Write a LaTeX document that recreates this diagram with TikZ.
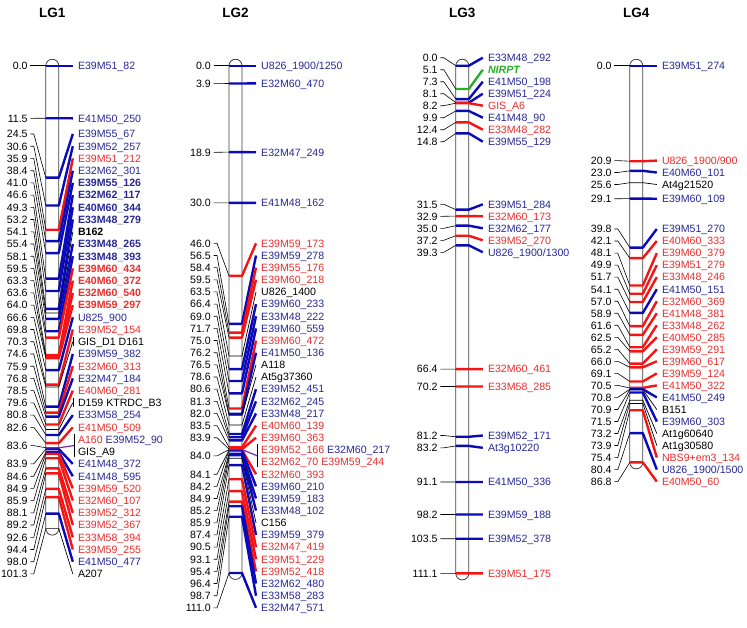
\documentclass[tikz,border=0pt]{standalone}
\usepackage{fontspec}
\setmainfont{Liberation Sans}
\usepackage{xcolor}
\definecolor{mapBlue}{RGB}{10,10,185}
\definecolor{mapRed}{RGB}{245,20,20}
\definecolor{mapGreen}{RGB}{40,175,40}
\definecolor{mapPurple}{RGB}{120,40,170}
\definecolor{txBlue}{RGB}{40,40,150}
\definecolor{txRed}{RGB}{235,45,45}

% one linkage group: name, centre x, last cM, title, markers (cM/label y/kind/text)
\newcommand{\linkagegroup}[5]{%
  \pgfmathsetmacro\xl{#2-6.5}%
  \pgfmathsetmacro\xr{#2+6.5}%
  \pgfmathsetmacro\yb{65.7+4.57*#3}%
  \node[lgtitle] (#1) at (#2,13) {#4};
  \draw[chrom] (\xl,65.7) arc[start angle=180,end angle=0,radius=6.5pt] -- (\xr,\yb)
    arc[start angle=0,end angle=-180,radius=6.5pt] -- cycle;
  \foreach \cm/\ly/\kd/\txt [count=\i] in {#5}{
    \pgfmathsetmacro\ty{65.7+4.57*\cm}
    \coordinate (#1-l\i) at (\xl,\ty);
    \coordinate (#1-r\i) at (\xr,\ty);
    \node[num] (#1-n\i) at (\xl-18,\ly) {\cm};
    \node[mname,tx \kd] (#1-m\i) at (\xr+19,\ly) {\txt};
    \draw[lnk] ([xshift=2.5pt]#1-n\i.east) -- ++(3.5,0) -- (#1-l\i);
    \draw[mk \kd] (#1-l\i) -- (#1-r\i) -- ([xshift=-5pt]#1-m\i.west);
  }
}

\begin{document}
\begin{tikzpicture}[x=1pt,y=-1pt,
  chrom/.style={draw=black!75,line width=0.8pt,fill=white},
  lnk/.style={draw=black,line width=0.6pt},
  mk b/.style={draw=mapBlue,line width=2.4pt,line join=round},
  mk r/.style={draw=mapRed,line width=2.4pt,line join=round},
  mk g/.style={draw=mapGreen,line width=2.4pt,line join=round},
  mk k/.style={draw=black,line width=0.7pt},
  mk p/.style={draw=mapPurple,line width=1.2pt},
  tx b/.style={text=txBlue},
  tx r/.style={text=txRed},
  tx g/.style={text=mapGreen},
  tx k/.style={text=black},
  num/.style={anchor=east,inner sep=0pt,text height=7.6pt,text depth=0pt,font=\fontsize{10.6}{12}\selectfont},
  mname/.style={anchor=west,inner sep=0pt,text height=7.6pt,text depth=0pt,font=\fontsize{10.6}{12}\selectfont},
  lgtitle/.style={font=\fontsize{13.5}{15}\selectfont\bfseries}]
\useasboundingbox[fill=white] (0,0) rectangle (747,627);

\linkagegroup{lg1}{52.3}{101.3}{LG1}{
0.0/65.7/b/{E39M51\_82},
11.5/118.3/b/{E41M50\_250},
24.5/134.0/b/{E39M55\_67},
30.6/146.2/b/{E39M52\_257},
35.9/158.4/r/{E39M51\_212},
38.4/170.7/b/{E32M62\_301},
41.0/182.9/b/{\bfseries E39M55\_126},
46.6/195.1/b/{\bfseries E32M62\_117},
49.3/207.3/b/{\bfseries E40M60\_344},
53.2/219.5/b/{\bfseries E33M48\_279},
54.1/231.8/k/{\bfseries B162},
55.4/244.0/b/{\bfseries E33M48\_265},
58.1/256.2/b/{\bfseries E33M48\_393},
59.5/268.4/r/{\bfseries E39M60\_434},
63.3/280.6/r/{\bfseries E40M60\_372},
63.6/292.9/r/{\bfseries E32M60\_540},
64.0/305.1/r/{\bfseries E39M59\_297},
66.6/317.3/b/{U825\_900},
69.8/329.5/r/{E39M52\_154},
70.3/341.7/k/{GIS\_D1 D161},
74.6/354.0/b/{E39M59\_382},
75.9/366.2/r/{E32M60\_313},
76.8/378.4/b/{E32M47\_184},
78.5/390.6/r/{E40M60\_281},
79.6/402.8/k/{D159 KTRDC\_B3},
80.8/415.1/b/{E33M58\_254},
82.6/427.3/r/{E41M50\_509},
83.9/463.9/b/{E41M48\_372},
84.6/476.2/b/{E41M48\_595},
84.9/488.4/r/{E39M59\_520},
85.9/500.6/r/{E32M60\_107},
88.1/512.8/r/{E39M52\_312},
89.2/525.0/r/{E39M52\_367},
92.6/537.3/r/{E33M58\_394},
94.4/549.5/r/{E39M59\_255},
98.0/561.7/b/{E41M50\_477},
101.3/573.9/k/{A207}}
\draw[lnk] ([xshift=-5pt]lg1-m20.west) ++(0,-4.5) -- ++(0,9);
\draw[lnk] ([xshift=-5pt]lg1-m25.west) ++(0,-4.5) -- ++(0,9);
% 83.6 carries three markers
\coordinate (lg1-l83) at (45.8,447.75);
\coordinate (lg1-r83) at (58.8,447.75);
\coordinate (lg1-k83) at (74,445.6);
\node[num] (lg1-n83) at (27.8,445.6) {83.6};
\node[mname] (lg1-a83) at (77.8,439.5) {\textcolor{txRed}{A160} \textcolor{txBlue}{E39M52\_90}};
\node[mname] (lg1-b83) at (77.8,451.7) {GIS\_A9};
\draw[lnk] ([xshift=2.5pt]lg1-n83.east) -- ++(3.5,0) -- (lg1-l83);
\draw[mk p] (lg1-l83) -- (lg1-r83) -- (lg1-k83);
\draw[lnk] (lg1-k83) ++(0,-11.5) -- ++(0,23);

\linkagegroup{lg2}{235.5}{111.0}{LG2}{
0.0/65.7/b/{U826\_1900/1250},
3.9/83.3/b/{E32M60\_470},
18.9/152.3/b/{E32M47\_249},
30.0/202.8/b/{E41M48\_162},
46.0/243.3/r/{E39M59\_173},
56.5/255.5/b/{E39M59\_278},
58.4/267.6/r/{E39M55\_176},
59.5/279.8/r/{E39M60\_218},
63.5/291.9/k/{U826\_1400},
66.4/304.1/b/{E39M60\_233},
69.0/316.2/b/{E33M48\_222},
71.7/328.4/b/{E39M60\_559},
75.0/340.5/r/{E39M60\_472},
76.2/352.7/b/{E41M50\_136},
76.5/364.8/k/{A118},
78.6/377.0/k/{At5g37360},
80.6/389.1/b/{E39M52\_451},
81.3/401.3/b/{E32M62\_245},
82.0/413.4/b/{E33M48\_217},
83.5/425.6/r/{E40M60\_139},
83.9/437.7/r/{E39M60\_363},
84.1/474.2/r/{E32M60\_393},
84.2/486.3/b/{E39M60\_210},
84.9/498.5/b/{E39M59\_183},
85.2/510.6/b/{E33M48\_102},
85.9/522.8/k/{C156},
87.4/534.9/b/{E39M59\_379},
90.5/547.1/r/{E32M47\_419},
93.1/559.2/r/{E39M51\_229},
95.4/571.4/r/{E39M52\_418},
96.4/583.5/b/{E32M62\_480},
98.7/595.7/b/{E33M58\_283},
111.0/607.8/b/{E32M47\_571}}
% 84.0 carries four markers
\coordinate (lg2-l84) at (229,449.6);
\coordinate (lg2-r84) at (242,449.6);
\coordinate (lg2-k84) at (257.5,455.9);
\node[num] (lg2-n84) at (211,455.9) {84.0};
\node[mname] (lg2-a84) at (261,449.9) {\textcolor{txRed}{E39M52\_166} \textcolor{txBlue}{E32M60\_217}};
\node[mname,tx r] (lg2-b84) at (261,462.0) {E32M62\_70 E39M59\_244};
\draw[lnk] ([xshift=2.5pt]lg2-n84.east) -- ++(3.5,0) -- (lg2-l84);
\draw[mk p] (lg2-l84) -- (lg2-r84) -- (lg2-k84);
\draw[lnk] (lg2-k84) ++(0,-11.5) -- ++(0,23);

\linkagegroup{lg3}{462.3}{111.1}{LG3}{
0.0/57.7/b/{E33M48\_292},
5.1/69.7/g/{\bfseries\itshape NIRPT},
7.3/81.7/b/{E41M50\_198},
8.1/93.7/b/{E39M51\_224},
8.2/105.7/r/{GIS\_A6},
9.9/117.7/b/{E41M48\_90},
12.4/129.7/r/{E33M48\_282},
14.8/141.7/b/{E39M55\_129},
31.5/204.3/b/{E39M51\_284},
32.9/216.3/r/{E32M60\_173},
35.0/228.3/b/{E32M62\_177},
37.2/240.3/r/{E39M52\_270},
39.3/252.3/b/{U826\_1900/1300},
66.4/369.1/r/{E32M60\_461},
70.2/386.5/r/{E33M58\_285},
81.2/435.5/b/{E39M52\_171},
83.2/447.8/b/{At3g10220},
91.1/482.0/b/{E41M50\_336},
98.2/514.5/b/{E39M59\_188},
103.5/538.7/b/{E39M52\_378},
111.1/573.4/r/{E39M51\_175}}

\linkagegroup{lg4}{636.3}{86.8}{LG4}{
0.0/65.7/b/{E39M51\_274},
20.9/160.6/r/{U826\_1900/900},
23.0/172.5/b/{E40M60\_101},
25.6/184.5/k/{At4g21520},
29.1/198.7/b/{E39M60\_109},
39.8/229.0/b/{E39M51\_270},
42.1/241.0/r/{E40M60\_333},
48.1/253.1/r/{E39M60\_379},
49.9/265.1/r/{E39M51\_279},
51.7/277.1/r/{E33M48\_246},
54.1/289.2/b/{E41M50\_151},
57.0/301.2/r/{E32M60\_369},
58.9/313.2/r/{E41M48\_381},
61.6/325.2/r/{E33M48\_262},
62.5/337.3/r/{E40M50\_285},
65.2/349.3/r/{E39M59\_291},
66.0/361.3/r/{E39M60\_617},
69.1/373.4/r/{E39M59\_124},
70.5/385.4/r/{E41M50\_322},
70.8/397.4/b/{E41M50\_249},
70.9/409.5/k/{B151},
71.5/421.5/b/{E39M60\_303},
73.2/433.5/k/{At1g60640},
73.9/445.5/k/{At1g30580},
75.4/457.6/r/{NBS9+em3\_134},
80.4/469.6/b/{U826\_1900/1500},
86.8/481.6/r/{E40M50\_60}}
\end{tikzpicture}
\end{document}
